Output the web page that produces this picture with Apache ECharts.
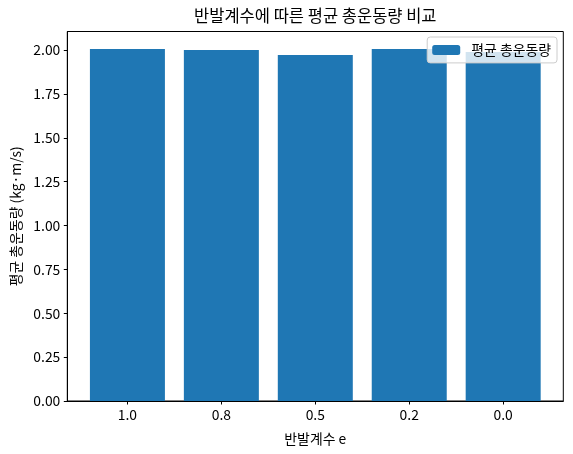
<!DOCTYPE html>
<html>
<head>
<meta charset="utf-8">
<script src="https://cdn.jsdelivr.net/npm/echarts@6/dist/echarts.min.js"></script>
<style>html,body{margin:0;padding:0;background:#fff}#c{width:573px;height:454px}</style>
</head>
<body>
<div id="c"></div>
<script>
const categories = ['1.0', '0.8', '0.5', '0.2', '0.0'];
const momentum = [2.006, 2.000, 1.972, 2.006, 1.989];
const yTicks = [0, 0.25, 0.5, 0.75, 1.0, 1.25, 1.5, 1.75, 2.0];
const seriesName = '평균 총운동량';
const titleText = '반발계수에 따른 평균 총운동량 비교';
const xName = '반발계수 e';
const yName = '평균 총운동량 (kg·m/s)';

const FONT = '"Noto Sans CJK KR", "Noto Sans", sans-serif';
const chart = echarts.init(document.getElementById('c'), null, {renderer: 'canvas'});
const idx = categories.map((_, i) => i);
const GL = 67.3, GR = 9.7;
chart.setOption({
  animation: false,
  textStyle: {fontFamily: FONT},
  graphic: [{
    type: 'text', x: (GL + 573 - GR) / 2, y: 16,
    style: {
      text: titleText, textAlign: 'center', textVerticalAlign: 'middle',
      font: '16.5px ' + FONT, fill: '#000'
    }
  }],
  legend: {
    data: [seriesName], right: 16, top: 37,
    itemWidth: 28, itemHeight: 10,
    padding: [6, 6, 6, 5],
    backgroundColor: 'rgba(255,255,255,0.8)',
    borderColor: '#cccccc', borderWidth: 1, borderRadius: 3,
    textStyle: {fontFamily: FONT, fontSize: 13.9, color: '#000', padding: [0, 0, 0, 6]}
  },
  grid: {left: GL, right: GR, top: 31.5, bottom: 53, show: true, borderColor: '#000', borderWidth: 1},
  xAxis: {
    type: 'value', min: -0.64, max: 4.64,
    name: xName, nameLocation: 'middle', nameGap: 31,
    nameTextStyle: {fontFamily: FONT, fontSize: 13.9, color: '#000'},
    axisLine: {show: true, onZero: false, lineStyle: {color: '#000'}},
    axisTick: {show: true, length: 3.5, lineStyle: {color: '#000'}, customValues: idx},
    axisLabel: {
      customValues: idx, margin: 7, fontFamily: FONT, fontSize: 13.9, color: '#000',
      formatter: v => categories[Math.round(v)] ?? ''
    },
    splitLine: {show: false}
  },
  yAxis: {
    type: 'value', min: 0, max: 2.106,
    name: yName, nameLocation: 'middle', nameGap: 45, nameRotate: 90,
    nameTextStyle: {fontFamily: FONT, fontSize: 13.9, color: '#000'},
    axisLine: {show: true, onZero: false, lineStyle: {color: '#000'}},
    axisTick: {show: true, length: 3.5, lineStyle: {color: '#000'}, customValues: yTicks},
    axisLabel: {
      customValues: yTicks, margin: 7, fontFamily: FONT, fontSize: 13.9, color: '#000',
      formatter: v => v.toFixed(2)
    },
    splitLine: {show: false}
  },
  series: [{
    name: seriesName, type: 'bar', barWidth: 75,
    itemStyle: {color: '#1f77b4'},
    data: momentum.map((v, i) => [i, v])
  }]
});
</script>
</body>
</html>
